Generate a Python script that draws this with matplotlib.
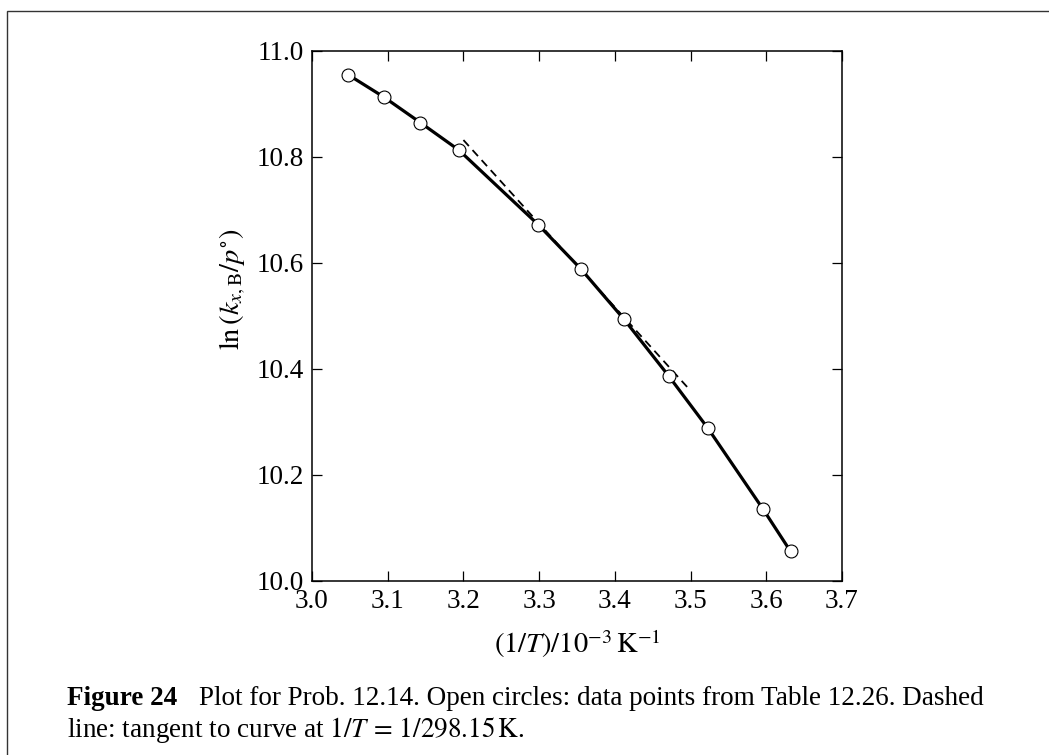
import numpy as np
import matplotlib
matplotlib.use("Agg")
import matplotlib.pyplot as plt
from matplotlib.patches import Rectangle

plt.rcParams["font.family"] = ["Liberation Serif", "DejaVu Serif"]
plt.rcParams["mathtext.fontset"] = "stix"

# data points: 1/T in 10^-3 K^-1 and ln(k_xB / p°)
inv_T = [3.048, 3.095, 3.143, 3.194, 3.299, 3.355, 3.412, 3.471, 3.523, 3.596, 3.632]
ln_k = [10.955, 10.913, 10.865, 10.813, 10.672, 10.589, 10.494, 10.387, 10.288, 10.135, 10.056]

# tangent at 1/T = 1/298.15 K, drawn between these end points
tangent_x = [3.20, 3.50]
tangent_y = [10.832, 10.359]

x_ticks = [3.0, 3.1, 3.2, 3.3, 3.4, 3.5, 3.6, 3.7]
y_ticks = [10.0, 10.2, 10.4, 10.6, 10.8, 11.0]

W, H = 1049, 755
fig = plt.figure(figsize=(W / 100, H / 100), dpi=100)
ax_l, ax_r, ax_t, ax_b = 312, 842, 51, 581
ax = fig.add_axes([ax_l / W, 1 - ax_b / H, (ax_r - ax_l) / W, (ax_b - ax_t) / H])

ax.plot(tangent_x, tangent_y, color="black", lw=1.3, ls=(0, (4.5, 3)), zorder=2)
ax.plot(inv_T, ln_k, color="black", lw=2.3, zorder=3)
ax.plot(inv_T, ln_k, ls="none", marker="o", ms=9.3, mfc="white", mec="black",
        mew=0.8, zorder=4)

ax.set_xlim(3.0, 3.7)
ax.set_ylim(10.0, 11.0)
ax.set_xticks(x_ticks)
ax.set_yticks(y_ticks)
ax.set_xticklabels([f"{v:.1f}" for v in x_ticks])
ax.set_yticklabels([f"{v:.1f}" for v in y_ticks])
ax.tick_params(direction="in", length=7.5, width=0.9, top=True, right=True,
               labelsize=19.5)
ax.tick_params(axis="x", pad=6)
ax.tick_params(axis="y", pad=6)
for s in ax.spines.values():
    s.set_linewidth(1.1)

ax.set_xlabel(r"$(1/T)/10^{-3}\,\mathrm{K}^{-1}$", fontsize=20.5)
ax.set_ylabel(r"$\mathrm{ln}\,(k_{x,\mathrm{B}}/p^{\circ})$", fontsize=20.5)
ax.xaxis.set_label_coords(0.5, (ax_b - 644) / (ax_b - ax_t))
ax.xaxis.label.set_va("center")
ax.yaxis.set_label_coords((233 - ax_l) / (ax_r - ax_l), 0.55)
ax.yaxis.label.set_va("center")

# caption under the plot
cap_size = 19.5
line1_y = 1 - 705 / H
line2_y = 1 - 737 / H
fig_label = fig.text(177 / W, line1_y, "Figure 24", fontsize=cap_size,
                     fontweight="bold", ha="right", va="baseline")
fig.text(199 / W, line1_y,
         "Plot for Prob. 12.14. Open circles: data points from Table 12.26. Dashed",
         fontsize=cap_size, ha="left", va="baseline")
renderer = fig.canvas.get_renderer()
cap_left = fig_label.get_window_extent(renderer).x0 / W
fig.text(cap_left, line2_y,
         r"line: tangent to curve at $1/T\,=\,1/298.15\,\mathrm{K}$.",
         fontsize=cap_size, ha="left", va="baseline")

# page frame, open on the right and bottom
frame = Rectangle((7 / W, -0.05), 1.2, 1 - 11 / H + 0.05, transform=fig.transFigure,
                  fill=False, lw=1.0, edgecolor="#333333", clip_on=False)
fig.patches.append(frame)

fig.savefig("out.png", dpi=100)
